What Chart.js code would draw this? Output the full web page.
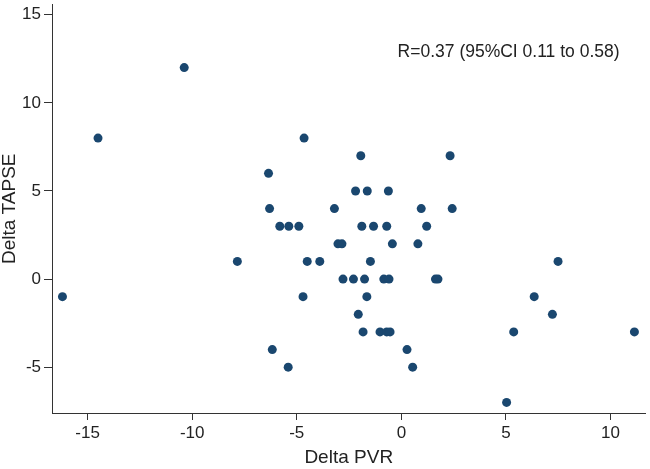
<!DOCTYPE html>
<html>
<head>
<meta charset="utf-8">
<script src="https://cdn.jsdelivr.net/npm/chart.js@4"></script>
<style>
  html, body { margin: 0; padding: 0; background: #fff; }
  canvas { display: block; }
</style>
</head>
<body>
<canvas id="scatterChart" width="650" height="469"></canvas>
<script>
// Delta PVR (x) and Delta TAPSE (y), one entry per patient
const deltaPVR = [
  -16.2, -14.5, -10.38, -7.84, -6.35, -6.3, -6.17, -5.81, -5.38, -5.41,
  -4.9, -4.65, -4.7, -4.5, -3.9, -3.2, -3.03, -2.84, -2.79, -2.29,
  -2.19, -2.06, -1.94, -1.89, -1.83, -1.76, -1.65, -1.63, -1.48, -1.33,
  -1.02, -0.84, -0.7, -0.7, -0.62, -0.59, -0.54, -0.43, 0.27, 0.54,
  0.79, 0.95, 1.21, 1.63, 1.75, 2.33, 2.43, 5.03, 5.37, 6.35,
  7.22, 7.49, 11.14,
];
const deltaTAPSE = [
  -1, 8, 12, 1, 6, 4, -4, 3, 3, -5,
  3, 8, -1, 1, 1, 4, 2, 2, 0, 0,
  5, -2, 7, 3, -3, 0, -1, 5, 1, 3,
  -3, 0, 3, -3, 5, 0, -3, 2, -4, -5,
  2, 4, 3, 0, 0, 7, 4, -7, -3, -1,
  -2, 1, -3,
];

const xTicks = [-15, -10, -5, 0, 5, 10];
const yTicks = [-5, 0, 5, 10, 15];

const corrText = 'R=0.37 (95%CI 0.11 to 0.58)';
const corrPos = { x: -0.18, y: 12.9 };

const axisColor = '#333333';
const textColor = '#222222';
const fontFamily = "'Liberation Sans', Arial, sans-serif";

const points = deltaPVR.map((x, i) => ({ x, y: deltaTAPSE[i] }));

const corrLabel = {
  id: 'corrLabel',
  afterDatasetsDraw(chart) {
    const { ctx, scales } = chart;
    ctx.save();
    ctx.font = '17.5px ' + fontFamily;
    ctx.fillStyle = textColor;
    ctx.textAlign = 'left';
    ctx.textBaseline = 'middle';
    ctx.fillText(corrText, scales.x.getPixelForValue(corrPos.x), scales.y.getPixelForValue(corrPos.y));
    ctx.restore();
  },
};

const ctx = document.getElementById('scatterChart').getContext('2d');
new Chart(ctx, {
  type: 'scatter',
  data: {
    datasets: [{
      data: points,
      backgroundColor: '#1a476f',
      borderColor: '#1a476f',
      pointRadius: 4.5,
      pointHoverRadius: 4.5,
      borderWidth: 0,
    }],
  },
  options: {
    responsive: false,
    animation: false,
    devicePixelRatio: 1,
    layout: {
      padding: { top: 3, right: 2, left: 0, bottom: 0 },
    },
    plugins: {
      legend: { display: false },
      tooltip: { enabled: false },
    },
    scales: {
      x: {
        type: 'linear',
        min: -16.7,
        max: 11.67,
        afterBuildTicks: (scale) => {
          scale.ticks = xTicks.map(value => ({ value }));
        },
        afterFit: (scale) => {
          scale.height = 56;
          scale.paddingLeft = 0;
          scale.paddingRight = 0;
        },
        border: { display: true, color: axisColor, width: 1 },
        grid: {
          display: true,
          drawOnChartArea: false,
          drawTicks: true,
          tickLength: 7,
          color: axisColor,
        },
        ticks: {
          color: textColor,
          padding: 3,
          font: { family: fontFamily, size: 17 },
        },
        title: {
          display: true,
          text: 'Delta PVR',
          color: textColor,
          padding: { top: -1, bottom: 0 },
          font: { family: fontFamily, size: 19 },
        },
      },
      y: {
        type: 'linear',
        min: -7.6,
        max: 15.58,
        afterBuildTicks: (scale) => {
          scale.ticks = yTicks.map(value => ({ value }));
        },
        afterFit: (scale) => {
          scale.width = 52;
          scale.paddingTop = 0;
          scale.paddingBottom = 0;
        },
        border: { display: true, color: axisColor, width: 1 },
        grid: {
          display: true,
          drawOnChartArea: false,
          drawTicks: true,
          tickLength: 8,
          color: axisColor,
        },
        ticks: {
          color: textColor,
          padding: 3,
          font: { family: fontFamily, size: 17 },
        },
        title: {
          display: true,
          text: 'Delta TAPSE',
          color: textColor,
          padding: { top: -2, bottom: 0 },
          font: { family: fontFamily, size: 19 },
        },
      },
    },
  },
  plugins: [corrLabel],
});
</script>
</body>
</html>
